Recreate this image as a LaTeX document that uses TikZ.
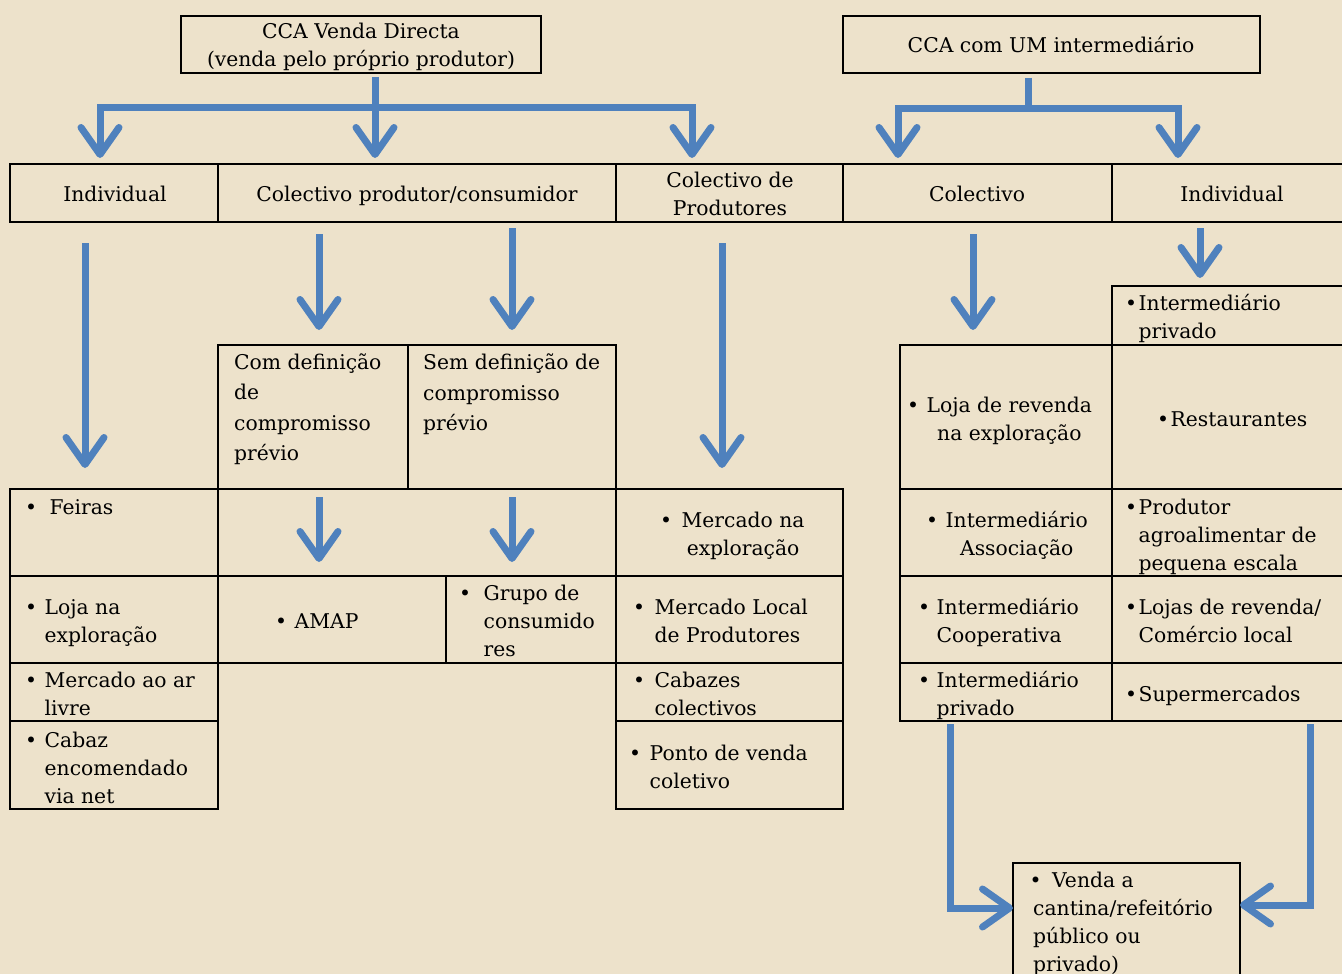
\documentclass[tikz,border=0pt]{standalone}
\usepackage{fontspec}
\setmainfont{DejaVu Serif}
\usetikzlibrary{arrows.meta}
\definecolor{parch}{HTML}{EDE2CB}
\definecolor{flowblue}{HTML}{4F81BD}
% cell box from (x1,y1) to (x2,y2), in px
\newcommand{\mkcell}[5]{\node[cell, minimum width={(#4-#2)*1pt}, minimum height={(#5-#3)*1pt}] (#1) at (#2,#3) {};}
% bullet item with hanging lines
\newcommand{\itm}[3][l]{\begin{tabular}{@{}l@{\hspace{#2}}#1@{}}\textbullet&#3\end{tabular}}
\newcommand{\lns}[2][l]{\begin{tabular}{@{}#1@{}}#2\end{tabular}}
\tikzset{
  cell/.style={draw=black, line width=2pt, anchor=north west, inner sep=0pt, outer sep=0pt},
  txt/.style={inner sep=0pt, yshift=-2pt, font=\fontsize{20.3}{28}\selectfont},
  flow/.style={draw=flowblue, line width=7pt, -{Straight Barb[length=27pt,width=38pt,round]}},
  bar/.style={draw=flowblue, line width=7pt},
}
\begin{document}
\begin{tikzpicture}[x=1pt,y=-1pt]
\useasboundingbox (0,0) rectangle (1342,974);
\fill[parch] (0,0) rectangle (1342,974);
% top boxes
\mkcell{topA}{181}{16}{541}{73}
\mkcell{topB}{843}{16}{1260}{73}
% first row
\mkcell{ind}{10}{164}{218}{222}
\mkcell{cpc}{218}{164}{616}{222}
\mkcell{cdp}{616}{164}{843}{222}
\mkcell{col}{843}{164}{1112}{222}
\mkcell{ind2}{1112}{164}{1346}{222}
% second level
\mkcell{com}{218}{345}{408}{489}
\mkcell{sem}{408}{345}{616}{489}
\mkcell{intpr}{1112}{286}{1346}{345}
\mkcell{lojrev}{900}{345}{1112}{489}
\mkcell{rest}{1112}{345}{1346}{489}
% lists
\mkcell{feiras}{10}{489}{218}{576}
\mkcell{gap}{218}{489}{616}{576}
\mkcell{merexp}{616}{489}{843}{576}
\mkcell{intass}{900}{489}{1112}{576}
\mkcell{prod}{1112}{489}{1346}{576}
\mkcell{lojexp}{10}{576}{218}{663}
\mkcell{amap}{218}{576}{446}{663}
\mkcell{grupo}{446}{576}{616}{663}
\mkcell{merloc}{616}{576}{843}{663}
\mkcell{intcoop}{900}{576}{1112}{663}
\mkcell{lojas}{1112}{576}{1346}{663}
\mkcell{merar}{10}{663}{218}{721}
\mkcell{cabazes}{616}{663}{843}{721}
\mkcell{intpv}{900}{663}{1112}{721}
\mkcell{super}{1112}{663}{1346}{721}
\mkcell{cabaz}{10}{721}{218}{809}
\mkcell{ponto}{616}{721}{843}{809}
\mkcell{venda}{1013}{863}{1240}{990}
% texts
\node[txt] (tA) at (361,45) {\lns[c]{CCA Venda Directa\\(venda pelo próprio produtor)}};
\node[txt] (tB) at (1051,45) {\lns{CCA com UM intermediário}};
\node[txt] (tInd) at (115,194) {\lns{Individual}};
\node[txt] (tCpc) at (417,194) {\lns{Colectivo produtor/consumidor}};
\node[txt] (tCdp) at (730,194) {\lns[c]{Colectivo de\\Produtores}};
\node[txt] (tCol) at (977,194) {\lns{Colectivo}};
\node[txt] (tInd2) at (1232,194) {\lns{Individual}};
\node[txt, anchor=west, font=\fontsize{20.3}{30.5}\selectfont] (tCom) at (234,407) {\lns{Com definição\\de\\compromisso\\prévio}};
\node[txt, anchor=west, font=\fontsize{20.3}{30.5}\selectfont] (tSem) at (423,392) {\lns{Sem definição de\\compromisso\\prévio}};
\node[txt, anchor=west] (tFei) at (25,507) {\itm{12.5pt}{Feiras}};
\node[txt, anchor=west] (tLoj) at (25,621) {\itm{7.5pt}{Loja na\\&exploração}};
\node[txt, anchor=west] (tMar) at (25,694) {\itm{7.5pt}{Mercado ao ar\\&livre}};
\node[txt, anchor=west] (tCab) at (25,768) {\itm{7.5pt}{Cabaz\\&encomendado\\&via net}};
\node[txt, anchor=west] (tAmap) at (275,621) {\itm{7.5pt}{AMAP}};
\node[txt, anchor=west] (tGru) at (459,621) {\itm{12.5pt}{Grupo de\\&consumido\\&res}};
\node[txt, anchor=west] (tMex) at (660,534) {\itm[c]{9.5pt}{Mercado na\\&exploração}};
\node[txt, anchor=west] (tMlo) at (633,621) {\itm{9.5pt}{Mercado Local\\&de Produtores}};
\node[txt, anchor=west] (tCbz) at (633,694) {\itm{9.5pt}{Cabazes\\&colectivos}};
\node[txt, anchor=west] (tPon) at (629,767) {\itm{8.5pt}{Ponto de venda\\&coletivo}};
\node[txt, anchor=west] (tLrv) at (907,419) {\itm[c]{7.5pt}{Loja de revenda\\&na exploração}};
\node[txt, anchor=west] (tIas) at (926,534) {\itm[c]{7.5pt}{Intermediário\\&Associação}};
\node[txt, anchor=west] (tIco) at (918,621) {\itm{6.5pt}{Intermediário\\&Cooperativa}};
\node[txt, anchor=west] (tIpv) at (918,694) {\itm{6.5pt}{Intermediário\\&privado}};
\node[txt, anchor=west] (tIpr) at (1125,317) {\itm{1.5pt}{Intermediário\\&privado}};
\node[txt, anchor=west] (tRes) at (1157,419) {\itm{1.5pt}{Restaurantes}};
\node[txt, anchor=west] (tPro) at (1125,535) {\itm{1.5pt}{Produtor\\&agroalimentar de\\&pequena escala}};
\node[txt, anchor=west] (tLjs) at (1125,621) {\itm{1.5pt}{Lojas de revenda/\\&Comércio local}};
\node[txt, anchor=west] (tSup) at (1125,694) {\itm{1.5pt}{Supermercados}};
\node[txt, anchor=west] (tVen) at (1033,922) {\lns{\hspace{-3.5pt}\textbullet\hspace{10.5pt}Venda a\\cantina/refeitório\\público ou\\privado)}};
% arrow columns
\coordinate (jA) at (375,107);
\coordinate (xA1) at (100,0);
\coordinate (xA3) at (692,0);
\coordinate (jB) at (1028,108);
\coordinate (xB1) at (898,0);
\coordinate (xB2) at (1178,0);
\coordinate (c1) at (85,0);
\coordinate (c2) at (319,0);
\coordinate (c3) at (512,0);
\coordinate (c4) at (722,0);
\coordinate (c5) at (973,0);
\coordinate (c6) at (1200,0);
\coordinate (c7) at (950,0);
\coordinate (c8) at (1310,0);
\coordinate (yV1) at (0,908);
\coordinate (yV2) at (0,905);
% from the top boxes
\draw[flow, shorten <=4pt, shorten >=6pt] (topA.south -| jA) -- (jA |- cpc.north);
\draw[flow, shorten >=6pt] (jA) -| (xA1 |- ind.north);
\draw[flow, shorten >=6pt] (jA) -| (xA3 |- cdp.north);
\draw[bar, shorten <=5pt] (topB.south -| jB) -- (jB);
\draw[flow, shorten >=6pt] (jB) -| (xB1 |- col.north);
\draw[flow, shorten >=6pt] (jB) -| (xB2 |- ind2.north);
% down the columns
\draw[flow, shorten <=21pt, shorten >=21pt] (c1 |- ind.south) -- (c1 |- feiras.north);
\draw[flow, shorten <=12pt, shorten >=15pt] (c2 |- cpc.south) -- (c2 |- com.north);
\draw[flow, shorten <=6pt, shorten >=15pt] (c3 |- cpc.south) -- (c3 |- sem.north);
\draw[flow, shorten <=21pt, shorten >=21pt] (c4 |- cdp.south) -- (c4 |- merexp.north);
\draw[flow, shorten <=12pt, shorten >=15pt] (c5 |- col.south) -- (c5 |- lojrev.north);
\draw[flow, shorten <=6pt, shorten >=8pt] (c6 |- ind2.south) -- (c6 |- intpr.north);
\draw[flow, shorten <=8pt, shorten >=14pt] (c2 |- com.south) -- (c2 |- amap.north);
\draw[flow, shorten <=8pt, shorten >=14pt] (c3 |- sem.south) -- (c3 |- grupo.north);
% into the bottom box
\draw[flow, shorten <=3pt] (c7 |- intpv.south) |- (yV1 -| venda.west);
\draw[flow, shorten <=3pt] (c8 |- super.south) |- (yV2 -| venda.east);
\end{tikzpicture}
\end{document}
